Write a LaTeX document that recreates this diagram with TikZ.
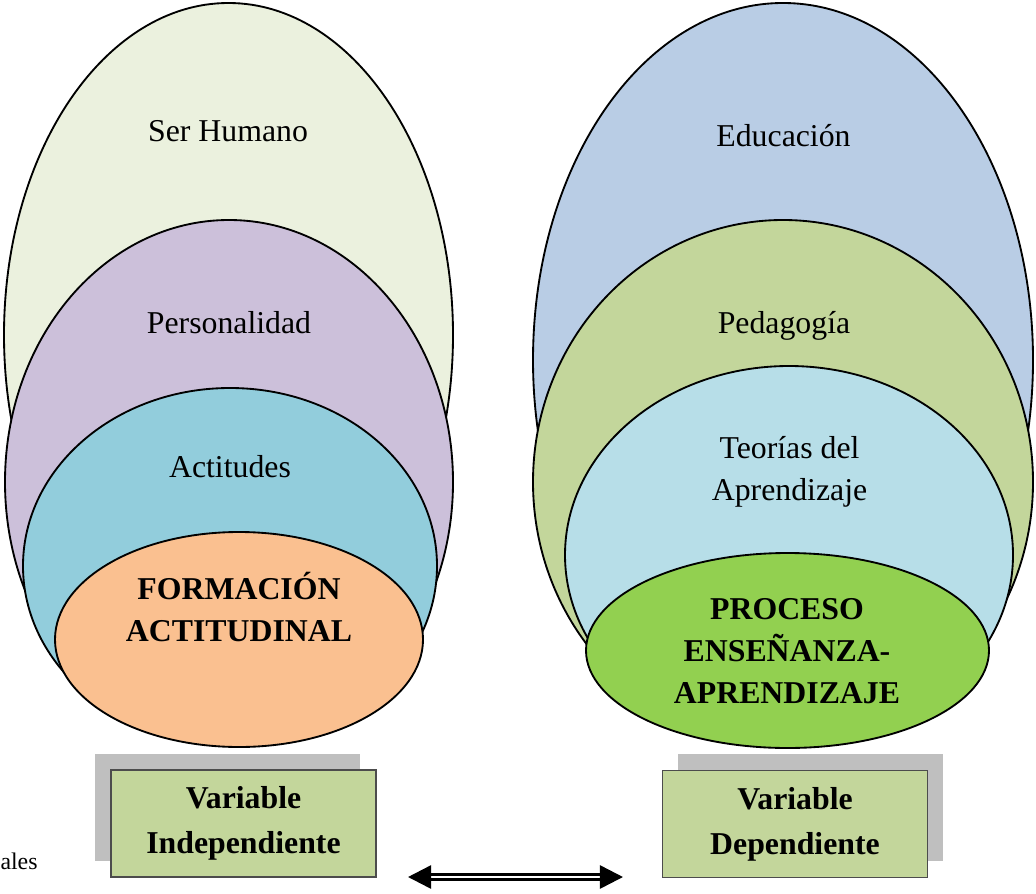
\documentclass[tikz,border=0pt]{standalone}
\usepackage{fontspec}
\setmainfont{Liberation Serif}
\usepackage{tikz}
\usetikzlibrary{shapes.geometric,arrows.meta}
\pgfmathsetmacro{\pxSize}{0.3774}
\definecolor{humanGreen}{HTML}{EBF1DE}
\definecolor{persPurple}{HTML}{CCC0DA}
\definecolor{actCyan}{HTML}{92CDDC}
\definecolor{formOrange}{HTML}{FAC090}
\definecolor{eduBlue}{HTML}{B9CDE5}
\definecolor{pedaGreen}{HTML}{C3D69B}
\definecolor{teoBlue}{HTML}{B7DEE8}
\definecolor{procGreen}{HTML}{92D050}
\definecolor{shadowGray}{HTML}{BFBFBF}
\tikzset{
	oval/.style n args={3}{
		shape=ellipse, draw, line width=0.7pt,
		inner sep=0, fill=#1,
		minimum width=#2*\pxSize*1pt,
		minimum height=#3*\pxSize*1pt
	},
	ovaltext/.style={font=\fontsize{12}{15.75}\selectfont, inner sep=0, align=center, anchor=base},
	ovaltitle/.style={ovaltext, font=\fontsize{12}{15.75}\selectfont\bfseries},
	shadowbox/.style={fill=shadowGray, inner sep=0,
		minimum width=265*\pxSize*1pt, minimum height=107*\pxSize*1pt},
	varbox/.style={shadowbox, fill=pedaGreen, draw=black!70, line width=0.4pt,
		align=center, font=\fontsize{12}{16.9}\selectfont\bfseries},
	twoway/.style={double, double distance=0.9pt, line width=0.95pt,
		{Triangle[length=8.7pt,width=8.7pt]}-{Triangle[length=8.7pt,width=8.7pt]}}
}

\begin{document}
\begin{tikzpicture}[x=\pxSize pt, y=-\pxSize pt]
\useasboundingbox (0,0) rectangle (1036,894);
% left rings
\node[oval={humanGreen}{449}{664}] (human) at (228.5,335) {};
\node[oval={persPurple}{448}{524}] (pers) at (229,482) {};
\node[oval={actCyan}{414}{356}] (act) at (230,566) {};
\node[oval={formOrange}{368}{215}] (form) at (239,639.5) {};
\node[ovaltext] (humanText) at (228,141.7) {Ser Humano};
\node[ovaltext] (persText) at (229,333) {Personalidad};
\node[ovaltext] (actText) at (230,477) {Actitudes};
\node[ovaltitle] (formText) at (239,641.7) {FORMACIÓN\\ACTITUDINAL};

% right rings
\node[oval={eduBlue}{500}{714}] (edu) at (783,360) {};
\node[oval={pedaGreen}{500}{524}] (peda) at (783,482) {};
\node[oval={teoBlue}{448}{378}] (teo) at (789,555) {};
\node[oval={procGreen}{403}{195}] (proc) at (787.5,650.5) {};
\node[ovaltext] (eduText) at (783.5,146.5) {Educación};
\node[ovaltext] (pedaText) at (784,333) {Pedagogía};
\node[ovaltext] (teoText) at (789.5,500) {Teorías del\\Aprendizaje};
\node[ovaltitle] (procText) at (787,703) {PROCESO\\ENSEÑANZA-\\APRENDIZAJE};

% variable boxes
\node[shadowbox] (indepShadow) at (227.5,807.5) {};
\node[varbox] (indepBox) at (243.5,823.5) {Variable\\Independiente};
\node[shadowbox] (depShadow) at (810.5,807.5) {};
\node[varbox] (depBox) at (795,824) {Variable\\Dependiente};

\coordinate (arrowL) at (408,877);
\coordinate (arrowR) at (623,877);
\draw[twoway] (arrowL) -- (arrowR);

\node[anchor=base west, inner sep=0, font=\fontsize{9}{11}\selectfont] (ales) at (0,869) {ales};
\end{tikzpicture}
\end{document}
